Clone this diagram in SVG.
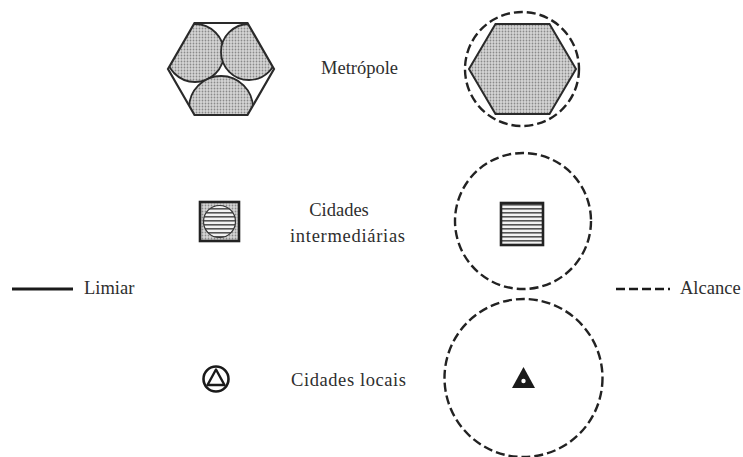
<svg xmlns="http://www.w3.org/2000/svg" width="743" height="457" viewBox="0 0 743 457">
<style>
  .lbl{font-family:"Liberation Serif","DejaVu Serif","Noto Serif",serif;font-size:18.5px;fill:#2e2e2e}
  .thr{stroke:#2a2a2a;stroke-width:2.2;fill:none}
  .rng{stroke:#222;stroke-width:2.4;fill:none;stroke-dasharray:9 4}
  .dot{fill:url(#dots)}
</style>
<defs>
  <pattern id="dots" width="3" height="3" patternUnits="userSpaceOnUse">
    <rect width="3" height="3" fill="#d6d6d6"/>
    <circle cx="1.5" cy="1.5" r="0.9" fill="#8a8a8a"/>
  </pattern>
  <pattern id="lines" width="4" height="4" patternUnits="userSpaceOnUse">
    <rect width="4" height="4" fill="#f2f2f2"/>
    <rect y="0" width="4" height="1.6" fill="#555"/>
  </pattern>
  <clipPath id="hexclip"><polygon points="274,69 247.5,23 194.5,23 168,69 194.5,115 247.5,115"/></clipPath>
</defs>
<rect width="743" height="457" fill="#fff"/>

<g id="metropole-limiar">
  <polygon points="274,69 247.5,23 194.5,23 168,69 194.5,115 247.5,115" fill="#fff"/>
  <g clip-path="url(#hexclip)">
    <circle cx="195" cy="53" r="29" class="dot" stroke="#2a2a2a" stroke-width="1.8"/>
    <circle cx="249" cy="52" r="28" class="dot" stroke="#2a2a2a" stroke-width="1.8"/>
    <circle cx="221" cy="108" r="32" class="dot" stroke="#2a2a2a" stroke-width="1.8"/>
  </g>
  <polygon points="274,69 247.5,23 194.5,23 168,69 194.5,115 247.5,115" class="thr"/>
</g>

<g id="metropole-alcance">
  <polygon points="576,69 549.5,24 495.5,24 469,69 495.5,114 549.5,114" class="dot" stroke="#2a2a2a" stroke-width="2"/>
  <circle cx="522" cy="69" r="57" class="rng"/>
</g>

<g id="intermediarias-limiar">
  <rect x="200" y="202" width="39" height="39" class="dot" stroke="#222" stroke-width="2.6"/>
  <circle cx="219.5" cy="221.5" r="16" fill="url(#lines)" stroke="#333" stroke-width="1.2"/>
</g>

<g id="intermediarias-alcance">
  <rect x="501" y="203" width="42" height="42" fill="url(#lines)" stroke="#222" stroke-width="2.6"/>
  <circle cx="523" cy="221" r="68" class="rng"/>
</g>

<g id="locais-limiar">
  <circle cx="216" cy="379" r="12.5" fill="none" stroke="#1a1a1a" stroke-width="2.6"/>
  <polygon points="216,369.5 224.5,385 207.5,385" fill="none" stroke="#1a1a1a" stroke-width="2.4" stroke-linejoin="round"/>
</g>

<g id="locais-alcance">
  <polygon points="523.5,367 535,388 512,388" fill="#1a1a1a"/>
  <circle cx="523.5" cy="381" r="2.2" fill="#fff"/>
  <circle cx="523.5" cy="378" r="79" class="rng"/>
</g>

<g id="labels">
  <text class="lbl" x="321" y="74">Metrópole</text>
  <text class="lbl" x="339" y="216" text-anchor="middle">Cidades</text>
  <text class="lbl" x="290" y="242" textLength="115">intermediárias</text>
  <text class="lbl" x="291" y="386" textLength="115">Cidades locais</text>
</g>

<g id="legend">
  <line x1="12" y1="289" x2="73" y2="289" stroke="#1a1a1a" stroke-width="3"/>
  <text class="lbl" x="84" y="294">Limiar</text>
  <line x1="616" y1="289" x2="670" y2="289" stroke="#1a1a1a" stroke-width="2.6" stroke-dasharray="9 4"/>
  <text class="lbl" x="680" y="294">Alcance</text>
</g>
</svg>
